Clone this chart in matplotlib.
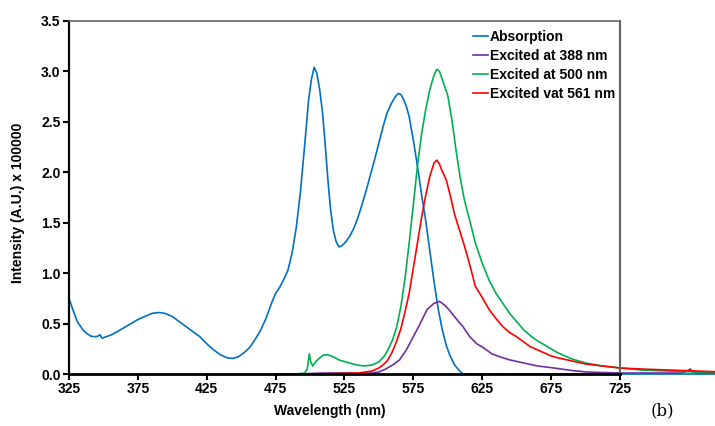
import matplotlib
matplotlib.use("Agg")
import matplotlib.pyplot as plt

plt.rcParams['font.family'] = ['Liberation Sans', 'DejaVu Sans']

# Absorption spectrum
abs_nm = [325, 328, 331, 335, 338, 341, 344, 346, 347.5, 349,
          352, 356, 360, 365, 370, 375, 380, 385, 390, 395,
          400, 405, 410, 415, 420, 425, 430, 435, 440, 444,
          448, 452, 456, 460, 464, 468, 472, 475, 478, 481,
          484, 487, 490, 493, 496, 499, 501, 503, 505, 507,
          509, 511, 513, 515, 517, 519, 521, 523,
          526, 529, 532, 535, 538, 541, 544, 547, 550, 553,
          556, 559, 562, 564, 566, 568, 570, 572, 575, 578,
          581, 584, 587, 590, 593, 596, 599, 602, 605, 608,
          611, 620, 650, 700, 750, 800]
abs_val = [0.75, 0.63, 0.52, 0.44, 0.40, 0.375, 0.37, 0.375, 0.39, 0.355,
           0.37, 0.39, 0.42, 0.46, 0.50, 0.54, 0.57, 0.60, 0.61, 0.60,
           0.57, 0.52, 0.47, 0.42, 0.37, 0.30, 0.24, 0.19, 0.16, 0.155,
           0.17, 0.21, 0.26, 0.34, 0.43, 0.55, 0.70, 0.80, 0.86, 0.94,
           1.03, 1.20, 1.45, 1.80, 2.25, 2.72, 2.92, 3.04, 2.98, 2.82,
           2.60, 2.28, 1.92, 1.62, 1.42, 1.31, 1.26, 1.27,
           1.31, 1.37, 1.45, 1.56, 1.69, 1.83, 1.98, 2.13, 2.29, 2.45,
           2.59, 2.68, 2.75, 2.78, 2.77, 2.72, 2.65, 2.55, 2.32, 2.06,
           1.78, 1.52, 1.22, 0.92, 0.65, 0.44, 0.28, 0.17, 0.09, 0.04,
           0.0, 0.0, 0.0, 0.0, 0.0, 0.0]

# Emission, excitation at 388 nm
ex388_nm = [490, 510, 530, 545, 550, 555, 560, 565, 570, 575,
            580, 585, 590, 594, 598, 602, 606, 611, 616, 621,
            626, 632, 638, 645, 655, 665, 677, 690, 701, 712,
            725, 740, 760, 770, 774, 776, 778, 782, 790, 800]
ex388_val = [0, 0.01, 0.01, 0.01, 0.02, 0.05, 0.09, 0.14, 0.24, 0.37,
             0.50, 0.64, 0.70, 0.72, 0.68, 0.62, 0.55, 0.47, 0.37, 0.30,
             0.26, 0.20, 0.17, 0.14, 0.11, 0.08, 0.06, 0.035, 0.02, 0.015,
             0.01, 0.01, 0.01, 0.01, 0.03, 0.05, 0.02, 0.01, 0.01, 0.01]

# Emission, excitation at 500 nm
ex500_nm = [475, 490, 496, 498, 499.5, 500.5, 502, 504, 507, 510,
            513, 517, 521, 526, 531, 536, 540, 545, 550, 554,
            557, 560, 563, 566, 569, 572, 575, 578, 581, 584,
            587, 590, 592, 594, 596, 598, 600, 603, 606, 609,
            612, 616, 620, 625, 630, 635, 640, 645, 650, 655,
            660, 665, 670, 675, 680, 690, 700, 712, 725, 740,
            760, 780, 800]
ex500_val = [0, 0, 0.01, 0.05, 0.20, 0.12, 0.08, 0.12, 0.16, 0.19,
             0.19, 0.17, 0.14, 0.12, 0.10, 0.085, 0.08, 0.09, 0.12, 0.18,
             0.25, 0.34, 0.47, 0.67, 0.95, 1.30, 1.68, 2.06, 2.38, 2.62,
             2.82, 2.96, 3.02, 3.00, 2.92, 2.84, 2.76, 2.52, 2.22, 1.95,
             1.73, 1.52, 1.30, 1.10, 0.93, 0.80, 0.70, 0.60, 0.52, 0.44,
             0.38, 0.33, 0.29, 0.25, 0.21, 0.15, 0.11, 0.08, 0.06, 0.04,
             0.03, 0.02, 0.02]

# Emission, excitation at 561 nm
ex561_nm = [475, 500, 520, 535, 545, 550, 553, 556, 559, 561,
            563, 566, 569, 572, 575, 578, 581, 584, 587, 590,
            592, 594, 596, 599, 602, 605, 608, 611, 614, 617,
            620, 625, 630, 635, 640, 645, 650, 655, 660, 665,
            670, 675, 680, 690, 700, 712, 725, 740, 760, 780, 800]
ex561_val = [0, 0, 0.005, 0.01, 0.03, 0.06, 0.09, 0.13, 0.20, 0.26,
             0.33, 0.45, 0.62, 0.80, 1.05, 1.30, 1.55, 1.77, 1.96, 2.09,
             2.12, 2.08, 2.01, 1.92, 1.76, 1.58, 1.45, 1.32, 1.18, 1.03,
             0.87, 0.76, 0.64, 0.55, 0.47, 0.41, 0.37, 0.32, 0.27, 0.24,
             0.21, 0.18, 0.16, 0.13, 0.10, 0.08, 0.06, 0.05, 0.04, 0.03, 0.02]

fig = plt.figure(figsize=(7.15, 4.26), dpi=100)
ax = fig.add_axes([0.0965, 0.122, 0.7705, 0.829])

lw = 1.2
ax.plot(abs_nm, abs_val, color='#0070C0', lw=lw, label='Absorption', clip_on=False)
ax.plot(ex388_nm, ex388_val, color='#7030A0', lw=lw, label='Excited at 388 nm', clip_on=False)
ax.plot(ex500_nm, ex500_val, color='#00B050', lw=lw, label='Excited at 500 nm', clip_on=False)
ax.plot(ex561_nm, ex561_val, color='#FF0000', lw=lw, label='Excited vat 561 nm', clip_on=False)

ax.set_xlim(325, 725)
ax.set_ylim(0, 3.5)
ax.set_xticks(range(325, 726, 50))
yt = [0, 0.5, 1.0, 1.5, 2.0, 2.5, 3.0, 3.5]
ax.set_yticks(yt)
ax.set_yticklabels(['%.1f' % v for v in yt])
ax.tick_params(direction='out', length=4, width=1.5, labelsize=10, pad=2)
for lab in ax.get_xticklabels() + ax.get_yticklabels():
    lab.set_fontweight('bold')

ax.spines['left'].set_linewidth(1.6)
ax.spines['bottom'].set_linewidth(2)
ax.spines['top'].set_color('#666666')
ax.spines['right'].set_color('#666666')
ax.spines['top'].set_linewidth(1.2)
ax.spines['right'].set_linewidth(1.6)

ax.set_xlabel('Wavelength (nm)', fontsize=10, fontweight='bold')
ax.xaxis.set_label_coords(0.474, -0.085)
ax.set_ylabel('Intensity (A.U.) x 100000', fontsize=10, fontweight='bold')
ax.yaxis.set_label_coords(-0.08, 0.484)

ax.legend(loc='upper left', bbox_to_anchor=(0.7225, 0.99), frameon=False,
          prop={'weight': 'bold', 'size': 10}, handlelength=1.1,
          handletextpad=0.15, labelspacing=0.35, borderaxespad=0)

fig.text(0.91, 0.025, '(b)', fontsize=12, family='DejaVu Serif')

fig.savefig('out.png', dpi=100)
